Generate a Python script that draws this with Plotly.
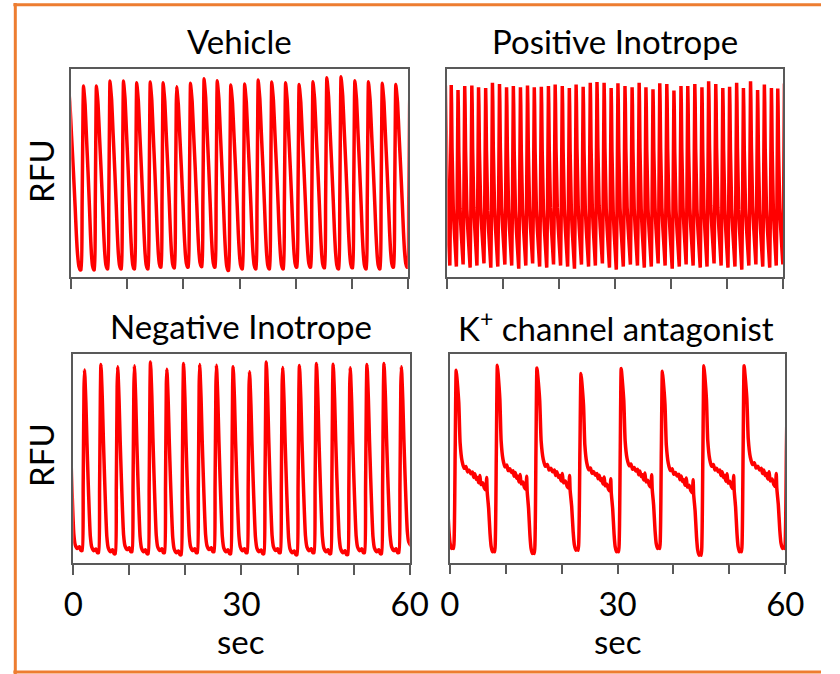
import plotly.graph_objects as go

# ---------------- data ----------------
# Each panel: peak times (s), peak heights (RFU, 0-100 of the box), trough after each beat.
# A clipped beat before t=0 and one after t=60 are included so the trace enters/leaves the box.

vehicle_peak_t = [-0.6, 2.18, 4.48, 6.90, 9.31, 11.67, 14.08, 16.38, 18.79, 21.26, 23.68, 26.03, 28.45,
                  30.92, 33.33, 35.75, 38.22, 40.63, 43.10, 45.57, 48.10, 50.57, 52.99, 55.46, 57.87, 60.4]
vehicle_peak_v = [93.0, 91.8, 91.8, 94.2, 94.2, 93.4, 93.7, 93.4, 91.5, 93.1, 95.3, 94.4, 92.3,
                  92.8, 94.7, 93.7, 93.4, 92.6, 93.9, 95.8, 96.3, 94.4, 93.9, 93.1, 92.6, 93.0]
vehicle_trough_v = [3.5, 3.5, 4.0, 4.0, 4.0, 4.0, 4.8, 4.5, 4.8, 5.1, 4.8, 3.2, 4.0,
                    4.0, 4.0, 4.0, 4.8, 4.8, 4.5, 4.0, 4.5, 4.0, 4.0, 4.8, 4.8]
vehicle_shape_phase = [0.0, 0.04, 0.12, 0.23, 0.35, 0.46, 0.54, 0.62, 0.70, 0.78, 0.84, 0.91, 0.97]
vehicle_shape_frac = [1.0, 0.97, 0.90, 0.72, 0.53, 0.34, 0.19, 0.08, 0.02, 0.0, 0.0, 0.35, 0.88]

positive_peak_t = [-0.35, 0.69, 1.90, 3.10, 4.37, 5.57, 6.84, 8.05, 9.31, 10.57, 11.78, 13.05, 14.31,
                   15.52, 16.78, 18.05, 19.25, 20.52, 21.78, 22.99, 24.25, 25.52, 26.72, 27.99, 29.25,
                   30.46, 31.72, 32.99, 34.25, 35.46, 36.72, 37.93, 39.19, 40.46, 41.72, 42.93, 44.19,
                   45.46, 46.66, 47.93, 49.19, 50.40, 51.66, 52.87, 54.14, 55.40, 56.61, 57.87, 59.0, 60.2]
positive_peak_v = [92.0, 92.3, 89.9, 91.8, 92.1, 91.2, 90.9, 93.4, 92.8, 91.2, 91.8, 91.2, 92.1,
                   91.2, 91.5, 91.8, 92.5, 91.8, 90.9, 92.5, 91.5, 93.4, 93.7, 93.4, 90.9, 93.1,
                   91.8, 91.2, 93.4, 91.2, 90.2, 93.1, 92.8, 89.6, 91.8, 91.8, 92.8, 91.2, 94.1,
                   92.8, 90.9, 91.5, 93.4, 90.9, 94.1, 89.9, 92.5, 90.9, 90.6, 93.0]
positive_trough_v = [5.5, 5.0, 6.0, 4.5, 5.5, 6.5, 4.5, 5.0, 6.0, 5.5, 4.0, 5.5, 6.5, 5.0, 4.5,
                     6.0, 5.5, 5.0, 4.0, 6.0, 5.0, 5.5, 6.5, 4.5, 3.5, 5.0, 6.0, 5.5, 4.5, 5.0,
                     6.5, 5.5, 4.0, 5.0, 6.0, 5.5, 4.5, 5.0, 6.5, 5.5, 4.5, 5.0, 3.5, 5.5, 6.0,
                     5.0, 4.5, 5.5, 6.0]
positive_shape_phase = [0.0, 0.05, 0.12, 0.20, 0.30, 0.45, 0.60, 0.72, 0.76, 0.86, 0.94]
positive_shape_frac = [1.0, 0.90, 0.65, 0.45, 0.32, 0.20, 0.10, 0.02, 0.0, 0.30, 0.78]

negative_peak_t = [-0.95, 2.01, 4.93, 7.92, 10.90, 13.77, 16.69, 19.67, 22.54, 25.53, 28.51, 31.43,
                   34.42, 37.34, 40.33, 43.37, 46.35, 49.39, 52.37, 55.41, 58.51, 61.5]
negative_peak_v = [94.0, 92.1, 94.8, 93.7, 94.1, 96.0, 92.5, 95.2, 94.8, 94.4, 93.7, 91.3,
                   96.0, 93.3, 94.3, 95.2, 94.9, 93.2, 94.8, 95.2, 93.7, 94.0]
negative_trough_v = [6.0, 5.0, 4.5, 5.5, 4.5, 5.0, 4.0, 5.0, 5.5, 4.5, 5.0, 4.5, 5.0, 4.0, 5.0,
                     4.5, 4.0, 5.0, 4.5, 5.0, 7.5]
negative_shape_phase = [0.0, 0.027, 0.085, 0.15, 0.22, 0.29, 0.355, 0.44, 0.57, 0.70, 0.78, 0.86,
                        0.92, 0.97]
negative_shape_frac = [1.0, 0.96, 0.82, 0.60, 0.40, 0.22, 0.09, 0.03, 0.01, 0.02, 0.0, 0.0,
                       0.35, 0.88]

kchan_peak_t = [-6.15, 1.15, 8.51, 15.59, 23.47, 30.66, 38.02, 45.45, 52.64, 60.4]
kchan_peak_v = [92.0, 92.0, 94.4, 93.1, 90.4, 92.8, 91.5, 94.1, 94.1, 92.0]
kchan_trough_v = [6.7, 5.1, 4.3, 5.9, 5.1, 6.7, 3.5, 5.1, 6.7]
kchan_shape_phase = [0.0, 0.021, 0.063, 0.095, 0.142, 0.192, 0.237, 0.274, 0.315, 0.356, 0.395,
                     0.425, 0.452, 0.486, 0.512, 0.548, 0.575, 0.603, 0.644, 0.685, 0.719, 0.74,
                     0.753, 0.788, 0.822, 0.849, 0.884, 0.918, 0.938, 0.975]
kchan_shape_frac = [1.0, 0.95, 0.82, 0.60, 0.50, 0.46, 0.47, 0.44, 0.45, 0.43, 0.44,
                    0.41, 0.43, 0.40, 0.41, 0.38, 0.42, 0.37, 0.38, 0.35, 0.34, 0.41,
                    0.33, 0.24, 0.10, 0.03, 0.0, 0.01, 0.0, 0.55]

panel_titles = ["Vehicle", "Positive Inotrope", "Negative Inotrope", "K<sup>+</sup> channel antagonist"]
tick_vals = [0, 10, 20, 30, 40, 50, 60]
tick_text = ["0", "", "", "30", "", "", "60"]
y_label = "RFU"
x_label = "sec"


def build_trace(peak_t, peak_v, trough_v, phase, frac):
    xs, ys = [], []
    for i in range(len(peak_t) - 1):
        period = peak_t[i + 1] - peak_t[i]
        for p, f in zip(phase, frac):
            xs.append(peak_t[i] + p * period)
            ys.append(trough_v[i] + f * (peak_v[i] - trough_v[i]))
    xs.append(peak_t[-1])
    ys.append(peak_v[-1])
    return xs, ys


W, H = 840, 674
RED = "#FF0000"
BOX = "#595959"
FONT = "Lato"
FS = 33


def dx(a, b):
    return [a / W, b / W]


def dy(top, bottom):
    return [1 - bottom / H, 1 - top / H]


panels = [
    (vehicle_peak_t, vehicle_peak_v, vehicle_trough_v, vehicle_shape_phase, vehicle_shape_frac),
    (positive_peak_t, positive_peak_v, positive_trough_v, positive_shape_phase, positive_shape_frac),
    (negative_peak_t, negative_peak_v, negative_trough_v, negative_shape_phase, negative_shape_frac),
    (kchan_peak_t, kchan_peak_v, kchan_trough_v, kchan_shape_phase, kchan_shape_frac),
]
line_shapes = ["spline", "linear", "spline", "spline"]
domains = [
    (dx(63.5, 412), dy(69, 277)),
    (dx(453, 801), dy(69, 277)),
    (dx(65.5, 414), dy(353.5, 563)),
    (dx(455.5, 803), dy(353.5, 562.5)),
]

fig = go.Figure()
layout = {}
for k, (data, (xd, yd), shp) in enumerate(zip(panels, domains, line_shapes), start=1):
    xs, ys = build_trace(*data)
    sfx = "" if k == 1 else str(k)
    fig.add_trace(go.Scatter(x=xs, y=ys, mode="lines",
                             line=dict(color=RED, width=3.5, shape=shp, smoothing=0.5),
                             xaxis="x" + sfx, yaxis="y" + sfx, showlegend=False, hoverinfo="skip"))
    bottom = k >= 3
    layout["xaxis" + sfx] = dict(
        domain=xd, range=[0, 60], anchor="y" + sfx, showgrid=False, zeroline=False,
        showline=True, mirror=True, linecolor=BOX, linewidth=1.5,
        ticks="outside", ticklen=10, tickwidth=1.5, tickcolor=BOX,
        tickmode="array", tickvals=tick_vals, ticktext=tick_text,
        showticklabels=bottom, ticklabelstandoff=2,
        tickfont=dict(family=FONT, size=FS, color="#000000"),
    )
    layout["yaxis" + sfx] = dict(
        domain=yd, range=[0, 100], anchor="x" + sfx, showgrid=False, zeroline=False,
        showline=True, mirror=True, linecolor=BOX, linewidth=1.5,
        showticklabels=False, ticks="",
    )

annotations = []
title_pos = [(238, 41), (627, 41), (239, 326), (628, 326)]
for t, (x, y) in zip(panel_titles, title_pos):
    annotations.append(dict(text=t, x=x / W, y=1 - y / H, xref="paper", yref="paper",
                            xanchor="center", yanchor="middle", showarrow=False,
                            font=dict(family=FONT, size=FS, color="#000000")))
for y in (171, 455):
    annotations.append(dict(text=y_label, x=32 / W, y=1 - y / H, xref="paper", yref="paper",
                            xanchor="center", yanchor="middle", showarrow=False, textangle=-90,
                            font=dict(family=FONT, size=FS, color="#000000")))
for x in (239, 629):
    annotations.append(dict(text=x_label, x=x / W, y=1 - 641 / H, xref="paper", yref="paper",
                            xanchor="center", yanchor="middle", showarrow=False,
                            font=dict(family=FONT, size=FS, color="#000000")))

ORANGE = "#ED7D31"
border = [
    dict(x0=3.5, x1=840, y0=4.7, y1=4.7),
    dict(x0=5.5, x1=5.5, y0=3, y1=674),
    dict(x0=3.5, x1=840, y0=672, y1=672),
]
shapes = [dict(type="line", xref="paper", yref="paper",
               x0=b["x0"] / W, x1=b["x1"] / W, y0=1 - b["y0"] / H, y1=1 - b["y1"] / H,
               line=dict(color=ORANGE, width=3), layer="below") for b in border]

fig.update_layout(
    width=W, height=H, margin=dict(l=0, r=0, t=0, b=0),
    paper_bgcolor="white", plot_bgcolor="white",
    annotations=annotations, shapes=shapes,
    **layout,
)

fig.write_html("out.html")
